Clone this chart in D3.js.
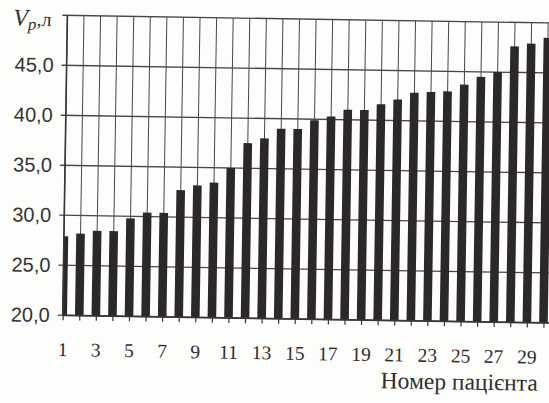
<!DOCTYPE html>
<html>
<head>
<meta charset="utf-8">
<script src="https://cdn.jsdelivr.net/npm/d3@7"></script>
<style>
  html, body { margin: 0; padding: 0; background: #fdfdfb; }
  svg { display: block; }
</style>
</head>
<body>
<svg id="chart" width="549" height="403"></svg>
<script>
// Residual lung volume per patient, patients ordered by volume
const patients = d3.range(1, 31);
const volumes = [27.9, 28.2, 28.5, 28.5, 29.8, 30.4, 30.4, 32.7, 33.2, 33.5,
                 35.0, 37.5, 38.0, 39.0, 39.0, 39.9, 40.3, 41.0, 41.0, 41.6,
                 42.1, 42.8, 42.9, 43.0, 43.7, 44.5, 45.0, 47.6, 47.9, 48.5];
const yTicks = [20, 25, 30, 35, 40, 45, 50];
const xLabelEvery = 2;
const xTitle = "Номер пацієнта";

const svg = d3.select("#chart");
const plotLeft = 65, plotTop = 19, plotBottom = 319;
const step = 16.58;
const plotRight = plotLeft + (patients.length - 0.5) * step;

const x = d3.scalePoint()
  .domain(patients)
  .range([plotLeft, plotLeft + (patients.length - 1) * step]);
const y = d3.scaleLinear().domain([20, 50]).range([plotBottom, plotTop]);

const barW = 8.6;
const ink = "#2c2828";
const gridC = "#4a4646";

// page is slightly skewed, as a printed figure
const g = svg.append("g").attr("transform", "rotate(0.9 300 170)");

g.append("clipPath").attr("id", "plotClip")
  .append("rect").attr("x", plotLeft).attr("y", plotTop - 2)
  .attr("width", plotRight - plotLeft + 20).attr("height", plotBottom - plotTop + 2);

// horizontal grid lines, with a short outward tick on the left
g.append("g").selectAll("line").data(yTicks).join("line")
  .attr("x1", plotLeft - 5).attr("x2", plotRight + 20)
  .attr("y1", d => y(d)).attr("y2", d => y(d))
  .attr("stroke", gridC).attr("stroke-width", 1.3);

// vertical grid lines through every patient position
g.append("g").selectAll("line").data(patients).join("line")
  .attr("x1", d => x(d)).attr("x2", d => x(d))
  .attr("y1", y(50)).attr("y2", y(20))
  .attr("stroke", gridC).attr("stroke-width", 1);

// bars
g.append("g").attr("clip-path", "url(#plotClip)")
  .selectAll("rect").data(patients).join("rect")
  .attr("x", d => x(d) - barW / 2)
  .attr("width", barW)
  .attr("y", (d, i) => y(volumes[i]))
  .attr("height", (d, i) => y(20) - y(volumes[i]))
  .attr("fill", ink);

// left axis line
g.append("line").attr("x1", plotLeft).attr("x2", plotLeft)
  .attr("y1", y(50)).attr("y2", y(20))
  .attr("stroke", "#3a3636").attr("stroke-width", 1.6);

// y axis labels
const yAxis = d3.axisLeft(y)
  .tickValues(yTicks)
  .tickSize(0)
  .tickPadding(13)
  .tickFormat(d => d === 50 ? "" : d3.format(".1f")(d).replace(".", ","));
const ya = g.append("g").attr("transform", `translate(${plotLeft},0)`).call(yAxis);
ya.select(".domain").remove();
ya.selectAll("text")
  .attr("font-family", "'Liberation Sans', Arial, sans-serif")
  .attr("font-size", 20).attr("fill", "#333");

// x axis with ticks at every patient, labels on odd numbers
const xAxis = d3.axisBottom(x)
  .tickSize(5)
  .tickPadding(22)
  .tickFormat(d => (d - 1) % xLabelEvery === 0 ? String(d) : "");
const xa = g.append("g").attr("transform", `translate(0,${plotBottom})`).call(xAxis);
xa.select(".domain").attr("d", `M${plotLeft},0H${plotRight + 20}`)
  .attr("stroke", "#3a3636").attr("stroke-width", 1.8);
xa.selectAll(".tick line").attr("stroke", "#3a3636").attr("stroke-width", 1.2);
xa.selectAll("text")
  .attr("font-family", "'Liberation Serif', 'Times New Roman', serif")
  .attr("font-size", 19.5).attr("fill", "#2e2e2e");

// axis titles
const yt = g.append("text")
  .attr("x", 11).attr("y", 30)
  .attr("font-family", "'Liberation Serif', 'Times New Roman', serif")
  .attr("font-size", 24).attr("fill", "#333");
yt.append("tspan").attr("font-style", "italic").text("V");
yt.append("tspan").attr("font-style", "italic").attr("font-size", 17)
  .attr("dy", 4).text("p");
yt.append("tspan").attr("dy", -4).attr("font-size", 20).text(",л");

g.append("text")
  .attr("x", 541).attr("y", 387)
  .attr("text-anchor", "end")
  .attr("font-family", "'Liberation Serif', 'Times New Roman', serif")
  .attr("font-size", 23.5).attr("fill", "#2e2e2e")
  .text(xTitle);
</script>
</body>
</html>
